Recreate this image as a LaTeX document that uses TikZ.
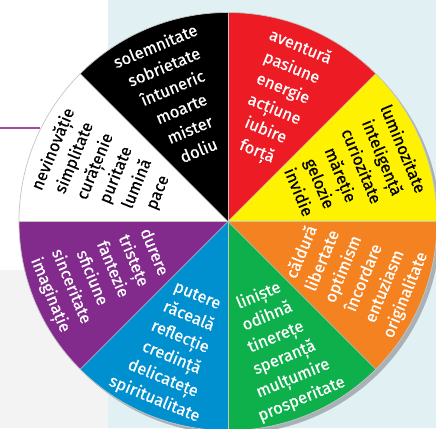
\documentclass[tikz,border=0pt]{standalone}
\usepackage{fontspec}
\setmainfont{Fira Sans}
\newfontfamily\wordfont{Fira Sans}[FakeBold=0.6]
\definecolor{cred}{HTML}{ED1C24}
\definecolor{cyellow}{HTML}{FFF200}
\definecolor{corange}{HTML}{F58220}
\definecolor{cgreen}{HTML}{0DB04B}
\definecolor{cblue}{HTML}{008FCF}
\definecolor{cpurple}{HTML}{832B8D}
\definecolor{cblack}{HTML}{000000}
\definecolor{cwhite}{HTML}{FFFFFF}
\definecolor{bgblue}{HTML}{E1F1F3}
\definecolor{panelgray}{HTML}{F3F3F3}
\definecolor{shadowgray}{HTML}{A8B2B6}
\definecolor{rulepurple}{HTML}{A4499C}
\definecolor{sepgray}{HTML}{C4C4C4}
\begin{document}
\begin{tikzpicture}[x=1pt,y=1pt,
  word/.style={anchor=base,inner sep=0pt,font=\wordfont\fontsize{16.5}{19}\selectfont},
  sepline/.style={draw=sepgray,line width=0.7pt}]
\useasboundingbox (-228,-206.5) rectangle (208,221.5);
\fill[white] (-228,-206.5) rectangle (208,221.5);
\fill[bgblue] (-120,-206.5) rectangle (208,221.5);
\fill[panelgray] (-228,-206.5) rectangle (-120,-48.5);
\draw[rulepurple,line width=2pt] (-228,93.5) -- (-188,93.5);
\fill[shadowgray] (3.5,-3.5) circle (209);
\foreach \a/\c in {45/cred,0/cyellow,-45/corange,-90/cgreen,-135/cblue,-180/cpurple,135/cwhite,90/cblack}{
  \fill[\c] (0,0) -- (\a:209pt) arc[start angle=\a,delta angle=45,radius=209pt] -- cycle;
}
\foreach \a in {0,45,...,315}{
  \draw[sepline] (0,0) -- (\a:209pt);
}
\draw[sepline] (0,0) circle (209);
\foreach \ang/\tc/\rb/\rs/\ro/\words/\s in {
  67.5/white/184/-22.6/-90/{aventură,pasiune,energie,acțiune,iubire,forță}/r,
  22.5/black/184/-22.6/-90/{luminozitate,inteligență,curiozitate,măreție,gelozie,invidie}/y,
  -22.5/white/85/22.4/90/{căldură,libertate,optimism,încordare,entuziasm,originalitate}/o,
  -67.5/white/85/22.4/90/{liniște,odihnă,tinerețe,speranță,mulțumire,prosperitate}/g,
  -112.5/white/85/22.4/90/{putere,răceală,reflecție,credință,delicatețe,spiritualitate}/b,
  -157.5/white/85/22.4/90/{durere,tristețe,fantezie,sficiune,sinceritate,imaginație}/p,
  157.5/black/184/-22.6/-90/{nevinovăție,simplitate,curățenie,puritate,lumină,pace}/w,
  112.5/white/184/-22.6/-90/{solemnitate,sobrietate,întuneric,moarte,mister,doliu}/k}{
  \foreach \w [count=\j from 0] in \words {
    \pgfmathsetmacro{\rr}{\rb+\rs*\j}
    \pgfmathsetmacro{\rot}{\ang+\ro}
    \node[word,text=\tc,rotate=\rot] (t\s\j) at (\ang:\rr pt) {\w};
  }
}
\end{tikzpicture}
\end{document}
